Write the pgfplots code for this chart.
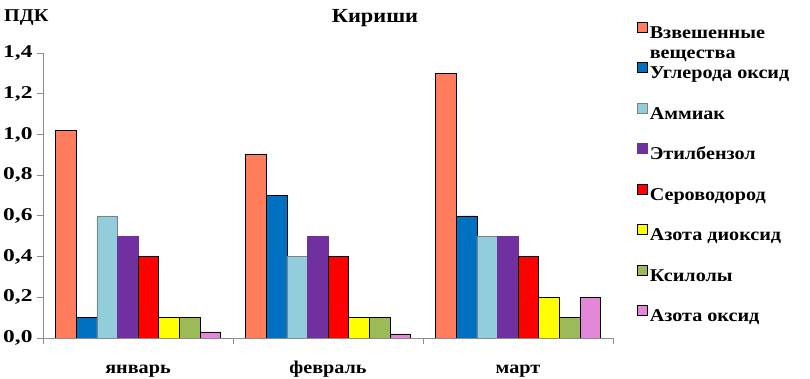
\documentclass[border=0pt]{standalone}
\usepackage{fontspec}
\setmainfont{Liberation Serif}[FakeStretch=1.12]
\newfontfamily\numfont{Liberation Serif}[FakeStretch=1.3]
\usepackage{pgfplots}
\pgfplotsset{compat=1.18}
\definecolor{c1}{RGB}{255,124,92}
\definecolor{c2}{RGB}{0,112,192}
\definecolor{c3}{RGB}{146,205,220}
\definecolor{c4}{RGB}{112,48,160}
\definecolor{c5}{RGB}{255,0,0}
\definecolor{c6}{RGB}{255,255,0}
\definecolor{c7}{RGB}{155,187,89}
\definecolor{c8}{RGB}{229,135,216}
\begin{document}
\begin{tikzpicture}[x=1pt,y=1pt]
\path[use as bounding box] (0,0) rectangle (810,379);
\begin{axis}[
  at={(43pt,41pt)}, anchor=south west,
  scale only axis, width=570pt, height=285pt,
  xmin=-0.5, xmax=2.5, ymin=0, ymax=1.4,
  ybar=0pt, bar width=20.6pt,
  axis x line*=bottom, axis y line*=left,
  axis line style={draw=gray!90, line width=0.9pt},
  font=\bfseries\fontsize{18}{20}\selectfont,
  /pgf/number format/assume math mode=true,
  ytick={0,0.2,0.4,0.6,0.8,1.0,1.2,1.4},
  yticklabel style={xshift=-1pt, font=\numfont\bfseries\fontsize{18}{20}\selectfont, /pgf/number format/.cd, fixed, fixed zerofill, precision=1, use comma},
  tick align=outside, major tick length=6pt,
  tick style={draw=gray!90, line width=0.9pt},
  xtick={0,1,2}, xticklabels={январь,февраль,март},
  x tick style={draw=none},
  xticklabel style={anchor=base, yshift=-30pt},
  extra x ticks={-0.5,0.5,1.5,2.5}, extra x tick labels={},
  extra x tick style={x tick style={draw=gray!90, line width=0.9pt}},
  legend cell align=left,
  legend image code/.code={\draw[#1, line width=0.6pt] (0pt,0pt) rectangle (10pt,10pt);},
  legend style={draw=none, fill=none, inner sep=0pt, row sep=20.4pt,
    at={(axis description cs:1.042,1.11)}, anchor=north west,
    font=\bfseries\fontsize{18}{20}\selectfont},
]
\addplot[fill=c1, draw=black, line width=0.6pt] coordinates {(0,1.02) (1,0.9) (2,1.3)};
\addlegendentry{\smash{\begin{tabular}[t]{@{}l@{}}Взвешенные\\вещества\end{tabular}}\strut}
\addplot[fill=c2, draw=black, line width=0.6pt] coordinates {(0,0.1) (1,0.7) (2,0.6)};
\addlegendentry{Углерода оксид\strut}
\addplot[fill=c3, draw=gray, line width=0.6pt] coordinates {(0,0.6) (1,0.4) (2,0.5)};
\addlegendentry{Аммиак\strut}
\addplot[fill=c4, draw=c4, line width=0.6pt] coordinates {(0,0.5) (1,0.5) (2,0.5)};
\addlegendentry{Этилбензол\strut}
\addplot[fill=c5, draw=black, line width=0.6pt] coordinates {(0,0.4) (1,0.4) (2,0.4)};
\addlegendentry{Сероводород\strut}
\addplot[fill=c6, draw=black, line width=0.6pt] coordinates {(0,0.1) (1,0.1) (2,0.2)};
\addlegendentry{Азота диоксид\strut}
\addplot[fill=c7, draw=black, line width=0.6pt] coordinates {(0,0.1) (1,0.1) (2,0.1)};
\addlegendentry{Ксилолы\strut}
\addplot[fill=c8, draw=black, line width=0.6pt] coordinates {(0,0.03) (1,0.02) (2,0.2)};
\addlegendentry{Азота оксид\strut}
\end{axis}
\node[font=\bfseries\fontsize{20}{22}\selectfont] at (375,361) {Кириши};
\node[font=\bfseries\fontsize{18}{20}\selectfont, anchor=west, inner sep=0pt] at (4,361) {ПДК};
\end{tikzpicture}
\end{document}
